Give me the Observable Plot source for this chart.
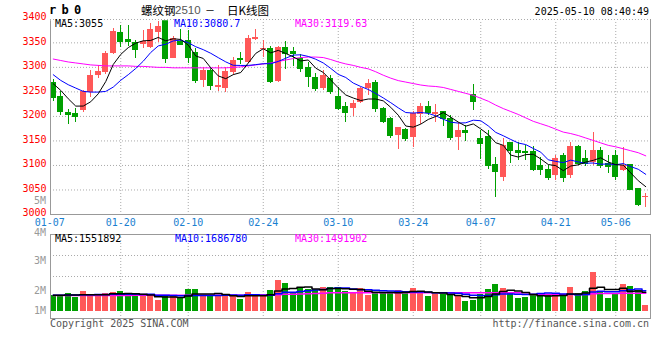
<!DOCTYPE html>
<html><head><meta charset="utf-8">
<script src="https://cdn.jsdelivr.net/npm/d3@7"></script>
<script src="https://cdn.jsdelivr.net/npm/@observablehq/plot@0.6"></script>
<style>
body{margin:0;background:#fff;}
#wrap{position:relative;width:660px;height:360px;overflow:hidden;font-family:"DejaVu Sans Mono",monospace;font-size:10px;color:#000;}
.t{position:absolute;white-space:nowrap;line-height:1;}
.cjk{font-family:"Noto Sans CJK SC",sans-serif;font-size:11.5px;}
#p1,#p2{position:absolute;left:0;}
#p1{top:0}
#p2{top:220px}
</style></head><body>
<div id="wrap">
  <div id="p1"></div>
  <div id="p2"></div>
  <div class="t" style="left:49px;top:4px;font-weight:bold;font-size:12px;letter-spacing:5.3px;">rb0</div>
  <div class="t cjk" style="left:141px;top:4.5px;">螺纹钢</div>
  <div class="t" style="left:175px;top:5px;font-family:'Liberation Sans',sans-serif;font-size:11.5px;color:#555;">2510</div>
  <div class="t cjk" style="left:205px;top:4.5px;font-size:10px;">－</div>
  <div class="t cjk" style="left:227px;top:4.5px;">日K线图</div>
  <div class="t" style="right:11px;top:6.7px;">2025-05-10 08:40:49</div>
  <div class="t" style="left:55px;top:19.2px;color:#000;">MA5:3055</div>
  <div class="t" style="left:174px;top:19.2px;color:#0000ff;">MA10:3080.7</div>
  <div class="t" style="left:295px;top:19.2px;color:#ff00ff;">MA30:3119.63</div>
  <div class="t" style="left:55px;top:233.5px;color:#000;">MA5:1551892</div>
  <div class="t" style="left:175px;top:233.5px;color:#0000ff;">MA10:1686780</div>
  <div class="t" style="left:295px;top:233.5px;color:#ff00ff;">MA30:1491902</div>
  <div class="t" style="right:614px;top:195.7px;color:#999;">5M</div>
  <div class="t" style="right:614px;top:227.5px;color:#999;">4M</div>
  <div class="t" style="right:614px;top:255.5px;color:#999;">3M</div>
  <div class="t" style="right:614px;top:285.7px;color:#999;">2M</div>
  <div class="t" style="right:614px;top:305.7px;color:#999;">1M</div>
  <div class="t" style="left:50px;top:318.5px;color:#555;">Copyright 2025 SINA.COM</div>
  <div class="t" style="right:11px;top:318.5px;color:#555;">http://finance.sina.com.cn</div>
</div>
<script>
// ---- data ----
const dateIdx = [0, 9, 18, 28, 38, 48, 57, 67, 75];
const dateLabels = ["01-07","01-20","02-10","02-24","03-10","03-24","04-07","04-21","05-06"];
const priceTicks = [3000,3050,3100,3150,3200,3250,3300,3350,3400];
const priceGrid = [3050,3100,3150,3200,3250,3300,3350];

const openP = [3270,3241.5,3207.5,3206.2,3212.3,3248.3,3283.6,3290.4,3329.1,3371.9,
 3356.9,3350.1,3346,3341.3,3370.5,3399,3318.9,3352,3355,3330,
 3273.4,3293.8,3259.8,3257.8,3289,3318.9,3310.7,3356.9,3337.9,3339.3,
 3271.4,3341.3,3333,3317.5,3300.6,3280.2,3257.8,3278.1,3240.8,3221.1,
 3217,3227.9,3257.8,3270,3217,3196.7,3161.4,3173.6,3158,3203.5,
 3221.1,3203.5,3210.3,3196.7,3158,3171.6,3244.2,3154.6,3159.3,3101.6,
 3074.5,3146.4,3130.8,3128.8,3128,3098.9,3092.1,3079.9,3119.3,3079.9,
 3139.6,3115.2,3107,3130.8,3103.6,3120.6,3090,3101.6,3052.7,3033.7];
const highP = [3275.4,3251,3214.3,3215.7,3253,3293.8,3304,3332.5,3378.6,3385.4,
 3385.4,3354.9,3375.2,3388.8,3393.6,3400,3363.7,3377,3375,3338,
 3300.6,3297.2,3304,3300.6,3320.9,3329.8,3365,3377.3,3354.9,3343,
 3343.3,3352,3341,3325.7,3310.7,3287,3293.8,3283.6,3259.8,3227.9,
 3232.7,3259.8,3275.4,3273.4,3219.1,3198.7,3178.3,3175,3210.3,3225.9,
 3230.6,3223.8,3210.3,3202.1,3188.5,3181.7,3264.6,3171.6,3171.6,3117.2,
 3154.6,3146.4,3147.8,3141,3138,3117.2,3100.3,3120.6,3124,3147.8,
 3141,3130.8,3166.8,3135.6,3120.6,3130.8,3135.6,3101.6,3052.7,3042.5];
const lowP = [3230.6,3202,3184.5,3188.5,3208.9,3239.5,3276.8,3285,3325.7,3341.3,
 3343.3,3318.9,3337.9,3337.9,3351.5,3307.4,3317.5,3344,3308,3268,
 3259.8,3253,3251,3248.3,3283.6,3305.3,3307.4,3354.9,3320.9,3266.6,
 3270,3295,3302,3290.4,3259.8,3251,3253,3244.2,3212.3,3187.2,
 3200.1,3225.9,3242.8,3208.9,3185.1,3154.6,3132.8,3149.1,3135.6,3183.1,
 3202.1,3188.5,3180.4,3151.2,3130.8,3149.1,3212.3,3112.5,3092.1,3033.7,
 3066.3,3103.6,3110.4,3110.4,3088,3079.9,3069.7,3069.7,3064.3,3073.1,
 3098.9,3096.9,3098.9,3093.5,3083.3,3069.7,3086.7,3049.3,3015.4,3013.3];
const closeP = [3239.5,3210.9,3204.1,3200.1,3251,3283.6,3291.7,3329.1,3373.9,3353.5,
 3353.5,3337.2,3352.8,3377.3,3384.1,3318.9,3358.3,3346,3320,3273,
 3293.8,3263.2,3263.2,3291.7,3314.1,3315.5,3359.6,3361.7,3339.3,3271.4,
 3341.3,3327.7,3328,3297.2,3281.5,3257.8,3283.6,3251,3217,3208.9,
 3227.2,3257.8,3266.6,3217,3189.9,3161.4,3177.7,3155.9,3205.5,3221.1,
 3208.9,3207.5,3196.7,3158,3171.6,3166.8,3230.6,3145.7,3100.3,3088,
 3141,3130.8,3125.4,3125.4,3092.1,3092.1,3074.5,3113.8,3074.5,3139.6,
 3103.6,3103.6,3130.8,3100.3,3096.9,3076.5,3098.9,3051.4,3020.8,3035.7];
const ma5P = [3266.6,3253,3236,3221,3221.1,3229.9,3246.1,3271.1,3305.9,3326.4,
 3340.3,3349.4,3354.2,3354.9,3361,3354.1,3358.3,3356.9,3345.5,3323.2,
 3318.2,3299.2,3282.6,3277,3285.2,3289.5,3308.8,3328.5,3338,3329.5,
 3334.7,3328.3,3321.5,3313.1,3315.1,3298.4,3289.6,3274.2,3258.2,3243.7,
 3237.5,3232.4,3235.5,3235.5,3231.7,3218.5,3202.5,3180.4,3178.1,3184.3,
 3193.8,3199.8,3207.9,3198.4,3188.5,3180.1,3184.7,3174.5,3163,3146.3,
 3141.1,3121.2,3117.1,3122.1,3122.9,3113.2,3101.9,3099.6,3089.4,3098.9,
 3101.2,3107,3110.4,3115.6,3107,3101.6,3100.7,3084.8,3068.9,3056.7];
const ma10P = [3285,3273.4,3264.6,3257.8,3251,3249.6,3249.6,3251,3259.8,3273.7,
 3285.1,3297.8,3312.6,3330.4,3343.7,3347.2,3353.9,3355.6,3350.2,3342.1,
 3336.1,3328.7,3319.8,3311.2,3304.2,3303.9,3304,3305.6,3307.5,3307.4,
 3312.1,3318.6,3325,3325.6,3322.3,3316.6,3309,3297.9,3285.7,3279.4,
 3268,3261,3254.9,3246.8,3237.7,3228,3217.5,3207.9,3206.8,3208,
 3206.2,3201.2,3194.2,3188.3,3186.4,3187,3192.3,3191.2,3180.7,3167.4,
 3160.6,3153,3145.8,3142.6,3134.6,3127.1,3111.5,3108.3,3105.8,3110.9,
 3107.2,3104.5,3105,3102.5,3103,3101.4,3103.9,3097.6,3092.2,3081.9];
const ma30P = [3317,3314,3311,3309,3307,3305,3304,3303,3303,3303,
 3303,3302,3302,3301,3300,3300,3299,3299,3299,3299,
 3299,3299,3299,3299,3300,3301,3303,3305,3307,3309,
 3312,3315,3318,3320,3321,3321,3320,3316,3311,3307,
 3304,3300,3297,3291,3284,3278,3273,3270,3267,3264,
 3262,3261,3259,3255,3251,3247,3243,3237,3231,3223,
 3216,3210,3204,3197,3190,3185,3180,3174,3168,3165,
 3161,3156,3151,3146,3141,3138,3134,3130,3126,3119.6];
// volume, millions of lots
const volM = [1.30,1.30,1.47,1.11,1.63,1.30,1.30,1.47,1.55,1.63,
 1.36,1.22,1.30,1.22,0.89,1.22,1.22,1.11,1.80,1.80,
 1.22,1.22,1.30,1.38,1.22,0.97,1.55,1.22,1.38,1.72,
 2.54,2.30,1.44,1.94,1.80,1.72,1.96,1.96,1.96,1.63,
 1.55,1.88,1.30,1.55,1.49,1.55,1.72,1.49,1.88,1.63,
 1.22,1.38,1.38,1.30,1.22,0.80,0.89,1.38,1.80,2.21,
 1.88,1.44,1.05,1.14,1.38,1.44,1.27,1.22,1.22,1.96,
 1.47,1.63,3.24,1.63,1.05,1.38,2.21,2.05,1.72,0.47];
const vma5 = [1.33,1.33,1.34,1.35,1.36,1.36,1.36,1.36,1.45,1.45,
 1.46,1.45,1.41,1.35,1.20,1.17,1.17,1.13,1.25,1.43,
 1.43,1.43,1.47,1.38,1.27,1.22,1.28,1.27,1.27,1.37,
 1.68,1.83,1.88,1.99,2.00,1.84,1.77,1.88,1.88,1.85,
 1.81,1.80,1.66,1.58,1.55,1.55,1.52,1.56,1.63,1.65,
 1.59,1.52,1.50,1.38,1.30,1.22,1.12,1.12,1.22,1.42,
 1.63,1.74,1.68,1.54,1.38,1.29,1.26,1.29,1.31,1.42,
 1.43,1.50,1.90,1.99,1.80,1.79,1.90,1.66,1.68,1.57];
const vma10 = [1.33,1.33,1.34,1.35,1.36,1.37,1.38,1.39,1.40,1.41,
 1.41,1.40,1.39,1.40,1.32,1.32,1.31,1.27,1.30,1.31,
 1.30,1.30,1.30,1.32,1.35,1.32,1.36,1.37,1.33,1.32,
 1.45,1.56,1.57,1.63,1.69,1.76,1.80,1.88,1.93,1.93,
 1.83,1.78,1.77,1.73,1.70,1.68,1.66,1.61,1.60,1.60,
 1.57,1.52,1.53,1.50,1.48,1.40,1.32,1.31,1.30,1.36,
 1.42,1.43,1.40,1.38,1.40,1.46,1.50,1.48,1.43,1.40,
 1.36,1.38,1.60,1.65,1.61,1.61,1.70,1.78,1.83,1.69];
const vma30 = [1.31,1.31,1.31,1.31,1.31,1.31,1.31,1.31,1.31,1.31,
 1.31,1.32,1.32,1.32,1.32,1.32,1.32,1.32,1.32,1.32,
 1.32,1.33,1.33,1.33,1.33,1.33,1.34,1.34,1.34,1.34,
 1.37,1.40,1.41,1.43,1.45,1.46,1.48,1.52,1.52,1.52,
 1.52,1.52,1.52,1.52,1.52,1.52,1.52,1.52,1.52,1.52,
 1.52,1.52,1.52,1.52,1.52,1.52,1.52,1.52,1.52,1.52,
 1.52,1.52,1.52,1.52,1.38,1.38,1.38,1.38,1.38,1.38,
 1.38,1.38,1.45,1.46,1.46,1.47,1.48,1.48,1.49,1.49];

// ---- build ----
const RED = "#ff5858", GREEN = "#00a000", GRID = "#aaa", BORDER = "#999";
const idx = d3.range(closeP.length);
const bars = idx.map(i => ({i, o: openP[i], h: highP[i], l: lowP[i], c: closeP[i], v: volM[i], up: closeP[i] >= openP[i]}));
const col = d => d.up ? RED : GREEN;
const series = (arr) => idx.map(i => ({i, y: arr[i]}));
const xScale = {type: "band", domain: idx, range: [49, 649], paddingInner: 0.2, paddingOuter: 0.1, round: false};
const dotted = {stroke: GRID, strokeDasharray: "1,2"};
const style = {background: "transparent", overflow: "visible", fontFamily: "'DejaVu Sans Mono', monospace", fontSize: "10px"};
const yTop = 3397.6;
const fmtDate = d => dateLabels[dateIdx.indexOf(d)];

const p1 = Plot.plot({
  width: 660, height: 232, marginTop: 19, marginBottom: 18, marginLeft: 50, marginRight: 10,
  style,
  x: {...xScale},
  y: {domain: [3000, yTop]},
  marks: [
    Plot.ruleY(priceGrid, dotted),
    Plot.ruleX(dateIdx.slice(1), dotted),
    Plot.ruleX(bars, {x: "i", y1: "l", y2: "h", stroke: col, clip: true, shapeRendering: "crispEdges"}),
    Plot.barY(bars, {x: "i", y1: d => Math.min(d.o, d.c), y2: d => Math.max(d.o, d.c), fill: col, clip: true, shapeRendering: "crispEdges"}),
    Plot.tickY(bars, {x: "i", y: "c", stroke: col, clip: true, shapeRendering: "crispEdges"}),
    Plot.line(series(ma30P), {x: "i", y: "y", stroke: "#ff00ff", strokeWidth: 1}),
    Plot.line(series(ma10P), {x: "i", y: "y", stroke: "#0000ff", strokeWidth: 1}),
    Plot.line(series(ma5P), {x: "i", y: "y", stroke: "#000", strokeWidth: 1}),
    Plot.frame({stroke: BORDER}),
    Plot.ruleY([yTop], {stroke: "#fff", strokeWidth: 1.5}),
    Plot.ruleY([yTop], dotted),
    Plot.axisY({ticks: priceTicks, tickSize: 0, tickPadding: 4, dy: -1.5, color: "#ff0000", tickFormat: d => String(d), label: null}),
    Plot.axisX({ticks: dateIdx.slice(1), tickSize: 0, tickPadding: 4, color: "#1a7fd0", tickFormat: fmtDate, label: null}),
    Plot.axisX({ticks: dateIdx.slice(0, 1), tickSize: 0, tickPadding: 4, dx: -3.5, color: "#1a7fd0", tickFormat: fmtDate, label: null})
  ]
});
document.getElementById("p1").append(p1);

// volume panel
const volDomain = [-0.605, 6.355];
const volGrid = [0.25, 0.5].map(f => volDomain[1] - f * (volDomain[1] - volDomain[0]));
const p2 = Plot.plot({
  width: 660, height: 100, marginTop: 14, marginBottom: 2, marginLeft: 50, marginRight: 10,
  style,
  x: {...xScale, axis: null},
  y: {domain: volDomain, axis: null},
  marks: [
    Plot.ruleY(volGrid, dotted),
    Plot.ruleX(dateIdx.slice(1), dotted),
    Plot.barY(bars, {x: "i", y1: 0, y2: "v", fill: col, shapeRendering: "crispEdges"}),
    Plot.line(series(vma30), {x: "i", y: "y", stroke: "#ff00ff", strokeWidth: 1.5, curve: "step"}),
    Plot.line(series(vma10), {x: "i", y: "y", stroke: "#0000ff", strokeWidth: 1.5, curve: "step"}),
    Plot.line(series(vma5), {x: "i", y: "y", stroke: "#000", strokeWidth: 1.5, curve: "step"}),
    Plot.frame({stroke: BORDER})
  ]
});
document.getElementById("p2").append(p2);
</script>
</body></html>
